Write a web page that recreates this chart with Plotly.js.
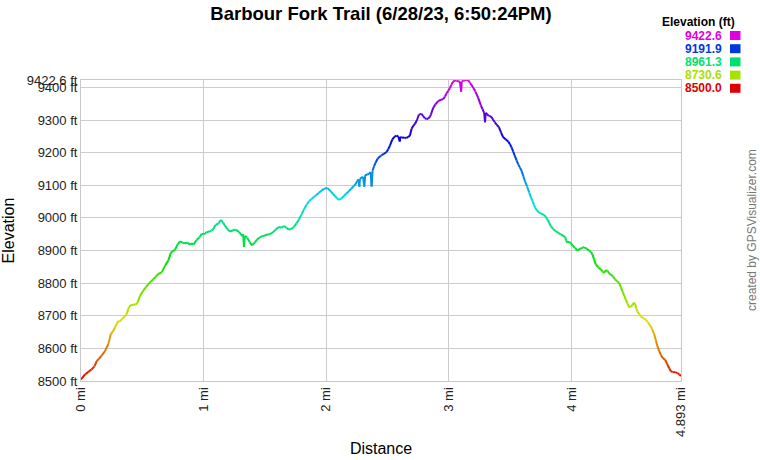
<!DOCTYPE html>
<html>
<head>
<meta charset="utf-8">
<script src="https://cdn.plot.ly/plotly-3.0.1.min.js"></script>
<style>html,body{margin:0;padding:0;background:#fff;}#chart{width:760px;height:460px;}</style>
</head>
<body>
<div id="chart"></div>
<script>
// Distance along trail (miles)
const distance = [
0,0.033,0.06,0.087,0.11,0.128,0.145,0.163,0.196,0.223,0.242,0.26,0.277,0.304,0.318,0.332,0.35,0.372,0.391,0.41,
0.427,0.445,0.462,0.481,0.508,0.53,0.549,0.57,0.59,0.61,0.63,0.658,0.685,0.712,0.734,0.75,0.766,0.787,0.807,0.828,
0.848,0.87,0.889,0.905,0.916,0.943,0.965,0.984,1.005,1.024,1.045,1.065,1.08,1.098,1.12,1.141,1.16,1.174,1.195,1.215,
1.24,1.26,1.288,1.315,1.322,1.329,1.336,1.356,1.376,1.396,1.417,1.437,1.458,1.478,1.5,1.519,1.54,1.56,1.587,1.614,
1.635,1.655,1.675,1.695,1.715,1.736,1.757,1.777,1.798,1.818,1.84,1.859,1.88,1.899,1.92,1.94,1.96,1.981,2.008,2.035,
2.055,2.071,2.088,2.103,2.125,2.144,2.165,2.185,2.205,2.226,2.24,2.253,2.265,2.27,2.275,2.29,2.3,2.31,2.318,2.335,
2.348,2.362,2.37,2.378,2.39,2.402,2.42,2.443,2.451,2.47,2.492,2.505,2.519,2.538,2.555,2.573,2.587,2.6,2.603,2.614,
2.635,2.655,2.668,2.682,2.696,2.71,2.723,2.74,2.755,2.765,2.777,2.79,2.804,2.818,2.831,2.845,2.853,2.872,2.89,2.913,
2.935,2.954,2.968,2.981,2.995,3.008,3.02,3.035,3.05,3.063,3.075,3.09,3.1,3.105,3.117,3.13,3.144,3.158,3.172,3.185,
3.2,3.217,3.239,3.261,3.275,3.288,3.295,3.3,3.321,3.335,3.348,3.362,3.375,3.39,3.408,3.425,3.443,3.465,3.484,3.498,
3.511,3.525,3.538,3.552,3.566,3.58,3.593,3.607,3.62,3.637,3.655,3.668,3.682,3.694,3.704,3.72,3.736,3.757,3.777,3.79,
3.804,3.818,3.831,3.85,3.872,3.893,3.913,3.93,3.948,3.958,3.967,3.981,3.995,4.008,4.028,4.049,4.062,4.076,4.09,4.103,
4.125,4.144,4.158,4.171,4.185,4.198,4.218,4.239,4.252,4.266,4.28,4.293,4.307,4.321,4.34,4.356,4.372,4.389,4.402,4.416,
4.43,4.443,4.457,4.47,4.485,4.497,4.508,4.519,4.528,4.538,4.552,4.565,4.585,4.606,4.622,4.639,4.657,4.674,4.688,4.701,
4.715,4.729,4.745,4.764,4.78,4.797,4.81,4.824,4.845,4.865,4.88,4.893
];
// Elevation (ft)
const elevation = [
8505,8520,8528,8536,8545,8561,8568,8575,8592,8613,8643,8652,8664,8684,8682,8690,8695,8705,8727,8733,
8734,8734,8741,8761,8777,8788,8797,8805,8812,8820,8828,8833,8853,8869,8894,8898,8902,8918,8928,8924,
8922,8924,8918,8922,8918,8932,8940,8951,8950,8956,8958,8961,8966,8979,8982,8994,8985,8976,8965,8958,
8962,8964,8957,8944,8950,8911,8945,8939,8925,8916,8924,8934,8940,8944,8946,8949,8950,8954,8964,8972,
8970,8975,8970,8964,8966,8972,8983,8995,9010,9026,9040,9051,9058,9064,9070,9077,9083,9089,9092,9082,
9074,9067,9060,9055,9060,9067,9075,9082,9090,9098,9104,9113,9118,9096,9120,9124,9126,9096,9131,9133,
9135,9140,9096,9146,9158,9169,9182,9190,9192,9196,9202,9210,9221,9240,9248,9252,9250,9234,9248,9246,
9246,9245,9248,9252,9273,9282,9288,9300,9316,9318,9319,9312,9306,9303,9304,9310,9316,9337,9348,9358,
9362,9364,9372,9381,9390,9397,9408,9418,9421,9421,9418,9418,9387,9418,9420,9422,9422.6,9422,9414,9407,
9398,9387,9368,9345,9333,9322,9293,9322,9314,9312,9309,9300,9293,9286,9278,9262,9247,9240,9234,9226,
9216,9203,9190,9176,9164,9154,9144,9128,9113,9097,9078,9064,9052,9040,9031,9022,9016,9012,9009,9003,
8995,8985,8975,8966,8959,8954,8949,8946,8941,8930,8924,8927,8922,8916,8908,8900,8904,8906,8909,8910,
8905,8900,8895,8888,8872,8857,8849,8842,8836,8831,8840,8838,8830,8826,8820,8811,8806,8800,8788,8775,
8762,8749,8737,8726,8728,8732,8740,8736,8722,8713,8705,8698,8693,8688,8680,8672,8660,8644,8625,8606,
8592,8580,8570,8565,8552,8539,8530,8527,8527,8524,8520,8515
];
const elevMin = 8500.0;
const elevMax = 9422.6;
const legendValues = [9422.6, 9191.9, 8961.3, 8730.6, 8500.0];
const yTickVals = [8500, 8600, 8700, 8800, 8900, 9000, 9100, 9200, 9300, 9400, 9422.6];
const yTickText = ["8500 ft","8600 ft","8700 ft","8800 ft","8900 ft","9000 ft","9100 ft","9200 ft","9300 ft","9400 ft","9422.6 ft"];
const xTickVals = [0, 1, 2, 3, 4, 4.893];
const xTickText = ["0 mi","1 mi","2 mi","3 mi","4 mi","4.893 mi"];

function colorFor(v) {
  const t = Math.max(0, Math.min(1, (v - elevMin) / (elevMax - elevMin)));
  const h = 300 * t;
  return 'hsl(' + h.toFixed(1) + ',100%,44%)';
}

const traces = [];
for (let i = 0; i < distance.length - 1; i++) {
  traces.push({
    type: 'scatter', mode: 'lines',
    x: [distance[i], distance[i + 1]],
    y: [elevation[i], elevation[i + 1]],
    line: {color: colorFor((elevation[i] + elevation[i + 1]) / 2), width: 2},
    hoverinfo: 'skip', showlegend: false
  });
}

const L = 81, R = 79, T = 80, B = 79;
const W = 760 - L - R, H = 460 - T - B;
const px = x => (x - L) / W;
const py = y => (460 - B - y) / H;

const annotations = [];
const shapes = [];
annotations.push({
  xref: 'paper', yref: 'paper', x: px(737), y: py(22), xanchor: 'right', yanchor: 'middle',
  text: '<b>Elevation (ft)</b>', showarrow: false, font: {size: 12, color: '#000'}
});
legendValues.forEach((v, i) => {
  const yc = 35.5 + i * 13.2;
  annotations.push({
    xref: 'paper', yref: 'paper', x: px(724), y: py(yc), xanchor: 'right', yanchor: 'middle',
    text: '<b>' + v.toFixed(1) + '</b>', showarrow: false, font: {size: 12, color: colorFor(v)}
  });
  shapes.push({
    type: 'rect', xref: 'paper', yref: 'paper',
    x0: px(730), x1: px(740.5), y0: py(yc + 4.5), y1: py(yc - 4.5),
    fillcolor: colorFor(v), line: {width: 0}
  });
});
annotations.push({
  xref: 'paper', yref: 'paper', x: px(752), y: py(230), xanchor: 'center', yanchor: 'middle',
  text: 'created by GPSVisualizer.com', textangle: -90, showarrow: false,
  font: {size: 12, color: '#777'}
});

const layout = {
  width: 760, height: 460,
  margin: {l: L, r: R, t: T, b: B, pad: 0},
  paper_bgcolor: '#fff', plot_bgcolor: '#fff',
  font: {family: 'Arial, "Liberation Sans", sans-serif', color: '#000'},
  title: {
    text: '<b>Barbour Fork Trail (6/28/23, 6:50:24PM)</b>',
    font: {size: 18.5, color: '#000'},
    x: 0.5, xref: 'paper', xanchor: 'center',
    y: 1 - 14 / 460, yref: 'container', yanchor: 'middle'
  },
  xaxis: {
    range: [0, 4.893], tickmode: 'array', tickvals: xTickVals, ticktext: xTickText,
    tickangle: -90, tickfont: {size: 13, color: '#222'},
    showgrid: true, gridcolor: '#cccccc', gridwidth: 1,
    showline: true, mirror: true, linecolor: '#c8c8c8', linewidth: 1,
    zeroline: false, ticks: '', automargin: false,
    title: {text: 'Distance', font: {size: 16, color: '#000'}, standoff: 6}
  },
  yaxis: {
    range: [elevMin, elevMax], tickmode: 'array', tickvals: yTickVals, ticktext: yTickText,
    tickfont: {size: 13, color: '#222'},
    showgrid: true, gridcolor: '#cccccc', gridwidth: 1,
    showline: true, mirror: true, linecolor: '#c8c8c8', linewidth: 1,
    zeroline: false, ticks: '', automargin: false,
    title: {text: 'Elevation', font: {size: 16, color: '#000'}, standoff: 14}
  },
  annotations: annotations,
  shapes: shapes,
  showlegend: false
};

Plotly.newPlot('chart', traces, layout, {displayModeBar: false, staticPlot: true});
</script>
</body>
</html>
